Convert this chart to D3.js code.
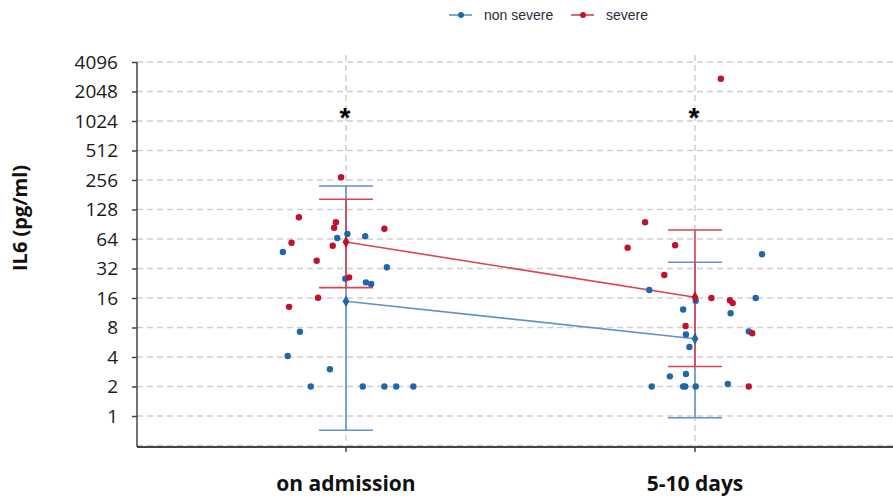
<!DOCTYPE html>
<html>
<head>
    <meta charset="utf-8">
    <title>IL6</title>
    <script src="https://d3js.org/d3.v7.min.js"></script>
    <style>
        body { margin: 0; padding: 0; background: #fff; overflow: hidden; }
        svg { display: block; }
    </style>
</head>
<body>
<script>
    // categories and series
    var categories = ["on admission", "5-10 days"];
    var seriesNames = ["non severe", "severe"];
    var yTicks = [1, 2, 4, 8, 16, 32, 64, 128, 256, 512, 1024, 2048, 4096];

    // group means and error bar ends (pg/ml)
    var meanNonSevere = [14.8, 6.15];
    var meanSevere = [59.6, 16.3];
    var upperNonSevere = [222, 37];
    var lowerNonSevere = [0.715, 0.96];
    var upperSevere = [163, 79];
    var lowerSevere = [20.4, 3.2];

    // individual values, with jitter in category units
    var nonSevereAdmission = [
        {v: 72, dx: 0.004}, {v: 65.5, dx: -0.025}, {v: 68.2, dx: 0.055}, {v: 47.2, dx: -0.181},
        {v: 32.9, dx: 0.117}, {v: 25.2, dx: -0.002}, {v: 23.1, dx: 0.057}, {v: 22.2, dx: 0.072},
        {v: 7.25, dx: -0.132}, {v: 4.1, dx: -0.167}, {v: 3.0, dx: -0.046}, {v: 2, dx: -0.101},
        {v: 2, dx: 0.048}, {v: 2, dx: 0.110}, {v: 2, dx: 0.144}, {v: 2, dx: 0.193}
    ];
    var severeAdmission = [
        {v: 273, dx: -0.014}, {v: 106.6, dx: -0.135}, {v: 94.8, dx: -0.029}, {v: 83.5, dx: -0.034},
        {v: 81.5, dx: 0.110}, {v: 58.7, dx: -0.156}, {v: 54.7, dx: -0.038}, {v: 38.4, dx: -0.084},
        {v: 26.0, dx: 0.009}, {v: 16.1, dx: -0.080}, {v: 13.0, dx: -0.163}
    ];
    var nonSevereLater = [
        {v: 44.7, dx: 0.192}, {v: 19.3, dx: -0.131}, {v: 15.0, dx: 0.002}, {v: 16, dx: 0.174},
        {v: 12.2, dx: -0.034}, {v: 11.2, dx: 0.102}, {v: 7.3, dx: 0.154}, {v: 6.8, dx: -0.026},
        {v: 5.06, dx: -0.016}, {v: 2.54, dx: -0.072}, {v: 2.68, dx: -0.026}, {v: 2, dx: -0.124},
        {v: 2, dx: -0.034}, {v: 2, dx: -0.028}, {v: 2, dx: 0.002}, {v: 2.12, dx: 0.094}
    ];
    var severeLater = [
        {v: 2767, dx: 0.074}, {v: 94.8, dx: -0.143}, {v: 52.2, dx: -0.193}, {v: 55.2, dx: -0.057},
        {v: 27.5, dx: -0.088}, {v: 16, dx: 0.047}, {v: 15.2, dx: 0.100}, {v: 14.2, dx: 0.108},
        {v: 8.3, dx: -0.027}, {v: 7.0, dx: 0.164}, {v: 2, dx: 0.154}
    ];
    var significance = ["*", "*"];

    var width = 893, height = 496;
    var plotLeft = 137, plotRight = 893, plotTop = 62, plotBottom = 447;

    var blueDot = "#1f67a9", redDot = "#c3102b";
    var blueLine = "#5f92c9", redLine = "#dc4453";

    var svg = d3.select("body").append("svg")
        .attr("width", width)
        .attr("height", height);

    var x = d3.scaleLinear().domain([0, 1]).range([346, 695]);
    var y = d3.scaleLog().base(2).domain([0.5, 4096]).range([445.5, 62]);

    // grid
    svg.append("g").selectAll("line")
        .data([0.5].concat(yTicks))
        .join("line")
        .attr("x1", plotLeft).attr("x2", plotRight)
        .attr("y1", d => y(d)).attr("y2", d => y(d))
        .attr("stroke", "#cfcfcf").attr("stroke-width", 1.5)
        .attr("stroke-dasharray", "6,4");
    svg.append("g").selectAll("line")
        .data(categories)
        .join("line")
        .attr("x1", (d, i) => x(i)).attr("x2", (d, i) => x(i))
        .attr("y1", 55).attr("y2", plotBottom)
        .attr("stroke", "#cfcfcf").attr("stroke-width", 1.5)
        .attr("stroke-dasharray", "6,4");

    // axes
    var yAxis = d3.axisLeft(y).tickValues(yTicks).tickFormat(d3.format("d")).tickSize(5).tickPadding(14);
    var gy = svg.append("g").attr("transform", "translate(" + plotLeft + ",0)").call(yAxis);
    gy.select(".domain").remove();
    gy.selectAll(".tick line").attr("stroke", "#444").attr("stroke-width", 1.5);
    gy.selectAll(".tick text")
        .attr("fill", "#1a1a1a")
        .style("font-family", "'Open Sans', sans-serif")
        .style("font-size", "19px");
    svg.append("line")
        .attr("x1", plotLeft).attr("x2", plotLeft).attr("y1", plotTop).attr("y2", plotBottom)
        .attr("stroke", "#444").attr("stroke-width", 1.5);
    svg.append("line")
        .attr("x1", plotLeft).attr("x2", plotRight).attr("y1", plotBottom).attr("y2", plotBottom)
        .attr("stroke", "#444").attr("stroke-width", 2);
    svg.append("g").selectAll("line")
        .data(categories)
        .join("line")
        .attr("x1", (d, i) => x(i)).attr("x2", (d, i) => x(i))
        .attr("y1", plotBottom).attr("y2", plotBottom + 5)
        .attr("stroke", "#444").attr("stroke-width", 1.5);
    svg.append("g").selectAll("text")
        .data(categories)
        .join("text")
        .attr("x", (d, i) => x(i)).attr("y", 491)
        .attr("text-anchor", "middle")
        .style("font-family", "'Open Sans', sans-serif")
        .style("font-size", "21px").style("font-weight", "bold")
        .attr("fill", "#111")
        .text(d => d);

    svg.append("text")
        .attr("transform", "translate(27,218) rotate(-90)")
        .attr("text-anchor", "middle")
        .style("font-family", "'Open Sans', sans-serif")
        .style("font-size", "20px").style("font-weight", "bold")
        .attr("fill", "#111")
        .text("IL6 (pg/ml)");

    // error bars and mean lines
    function drawSeries(means, upper, lower, color) {
        var g = svg.append("g").attr("stroke", color).attr("stroke-width", 1.6).attr("fill", "none");
        categories.forEach((c, i) => {
            g.append("line").attr("x1", x(i)).attr("x2", x(i)).attr("y1", y(upper[i])).attr("y2", y(lower[i]));
            [upper[i], lower[i]].forEach(v => {
                g.append("line").attr("x1", x(i) - 27).attr("x2", x(i) + 27).attr("y1", y(v)).attr("y2", y(v));
            });
        });
        g.append("path")
            .datum(means)
            .attr("d", d3.line().x((d, i) => x(i)).y(d => y(d)));
    }
    drawSeries(meanNonSevere, upperNonSevere, lowerNonSevere, blueLine);
    drawSeries(meanSevere, upperSevere, lowerSevere, redLine);

    // individual points
    function drawPoints(pts, idx, color) {
        svg.append("g").selectAll("circle")
            .data(pts)
            .join("circle")
            .attr("cx", d => x(idx + d.dx))
            .attr("cy", d => y(d.v))
            .attr("r", 3.2)
            .attr("fill", color);
    }
    drawPoints(nonSevereAdmission, 0, blueDot);
    drawPoints(severeAdmission, 0, redDot);
    drawPoints(nonSevereLater, 1, blueDot);
    drawPoints(severeLater, 1, redDot);

    // mean markers
    var diamond = d3.symbol().type(d3.symbolDiamond).size(40);
    [[meanNonSevere, blueDot], [meanSevere, redDot]].forEach(s => {
        svg.append("g").selectAll("path")
            .data(s[0])
            .join("path")
            .attr("d", diamond)
            .attr("transform", (d, i) => "translate(" + x(i) + "," + y(d) + ")")
            .attr("fill", s[1]);
    });

    // significance
    svg.append("g").selectAll("text")
        .data(significance)
        .join("text")
        .attr("x", (d, i) => x(i) - 1).attr("y", 127)
        .attr("text-anchor", "middle")
        .style("font-family", "'Liberation Sans', Arial, sans-serif")
        .style("font-size", "28px").style("font-weight", "bold")
        .attr("fill", "#000")
        .text(d => d);

    // legend
    var legend = svg.append("g");
    var legendItems = [
        {name: seriesNames[0], x0: 449, line: blueLine, dot: blueDot},
        {name: seriesNames[1], x0: 571, line: redLine, dot: redDot}
    ];
    legendItems.forEach(it => {
        legend.append("line").attr("x1", it.x0).attr("x2", it.x0 + 23).attr("y1", 15).attr("y2", 15)
            .attr("stroke", it.line).attr("stroke-width", 1.6);
        legend.append("circle").attr("cx", it.x0 + 12).attr("cy", 15).attr("r", 3).attr("fill", it.dot);
        legend.append("text").attr("x", it.x0 + 35).attr("y", 20)
            .style("font-family", "'Liberation Sans', Arial, sans-serif")
            .style("font-size", "14px")
            .attr("fill", "#2b2b3a")
            .text(it.name);
    });
</script>
</body>
</html>
